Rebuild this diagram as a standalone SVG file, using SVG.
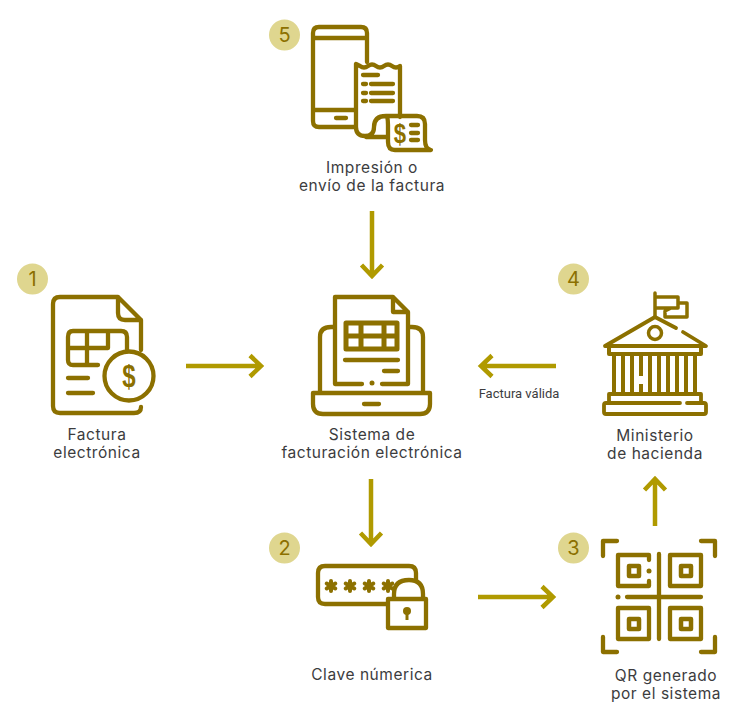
<svg xmlns="http://www.w3.org/2000/svg" width="750" height="714" viewBox="0 0 750 714">
<defs>
<style>
.i{fill:none;stroke:#8c7000;stroke-width:4.300;stroke-linecap:round;stroke-linejoin:round}
.f{fill:#8c7000;stroke:none}
.a{fill:none;stroke:#b09a00;stroke-width:4.500;stroke-linejoin:miter}
.b{fill:#dfd68f}
.n{font:400 20px Inter,"Liberation Sans",sans-serif;fill:#8c7000;text-anchor:middle}
.t{font:400 15.500px Inter,"Liberation Sans",sans-serif;fill:#3c3c3e;text-anchor:middle;letter-spacing:.55px}
.s{font:400 13px Roboto,"Liberation Sans",sans-serif;fill:#3c3c3e;text-anchor:middle}
.d{font:700 30px "Liberation Sans",sans-serif;fill:#8c7000;text-anchor:middle}
</style>
</defs>
<rect width="750" height="714" fill="#fff"/>
<g id="connectors">
<path class="a" d="M186 366H261M250 355.500L261 366L250 376.500"/>
<path class="a" d="M556 366H481M492 355.500L481 366L492 376.500"/>
<path class="a" d="M372 211V276M361.500 265L372 276L382.500 265"/>
<path class="a" d="M371 479V544M360.500 533L371 544L381.500 533"/>
<path class="a" d="M478 597H553M542 586.500L553 597L542 607.500"/>
<path class="a" d="M655 526V479M644.500 490L655 479L665.500 490"/>
<text class="s" x="519" y="398">Factura válida</text>
</g>
<g id="node-5">
<circle class="b" cx="284.500" cy="35" r="15.500"/><text class="n" x="284.500" y="42">5</text>
<path class="i" d="M367 62V33Q367 27 361 27H319Q313 27 313 33V121Q313 127 319 127H355M313 38H367M313 110H355M336 118H346"/>
<path class="i" d="M400 117V66Q396 69 392 66T384 66T376 66T368 66T360 66L356 64V127Q356 136 365 136Q374 136 374 127Q374 116 386 116H417Q425 116 425 124V140Q425 149 431 150H395Q388 150 388 142V125Q388 116 386 116M366 137H387"/>
<path class="i" d="M363 75H378M363 84H366M371 84H393M363 93H366M371 93H393M363 101H366M371 101H393M411 125H418M411 133H418M411 140H418"/>
<text class="d" transform="translate(400 143) scale(.85 1.05)" style="font-size:26px">$</text>
<text class="t" x="372" y="173">Impresión o</text>
<text class="t" x="372" y="191">envío de la factura</text>
</g>
<g id="node-1">
<circle class="b" cx="32.500" cy="279" r="15.500"/><text class="n" x="32.500" y="286">1</text>
<path class="i" d="M141 350V320L118 297H60Q53 297 53 304V406Q53 413 60 413H134Q141 413 141 407M118 297V313Q118 320 125 320H141"/>
<path class="i" d="M127 351V337Q127 331 121 331H73Q68 331 68 337V360Q68 365 73 365H98M68 348H108V331M87 331V365M68 378H88M68 393H93"/>
<circle class="i" cx="129" cy="376" r="24.500"/>
<text class="d" transform="translate(129 387) scale(.8 1.05)">$</text>
<text class="t" x="97" y="440">Factura</text>
<text class="t" x="97" y="458">electrónica</text>
</g>
<g id="node-center">
<path class="i" d="M335 384V297H393L408 312V384H382M362 384H335M393 297V312H408"/>
<path class="i" d="M346 323H397V349H346ZM346 336H397M361 323V349M384 323V349" style="stroke-width:5"/>
<path class="i" d="M345 360H398M384 371H398"/>
<circle class="f" cx="372" cy="383" r="2.500"/>
<path class="i" d="M320 393V337Q320 327 331 327H334M423 393V337Q423 327 412 327H409M313 393H430V404Q430 414 420 414H323Q313 414 313 404ZM364 404H379"/>
<text class="t" x="372" y="440">Sistema de</text>
<text class="t" x="372" y="458">facturación electrónica</text>
</g>
<g id="node-4">
<circle class="b" cx="573.500" cy="279" r="15.500"/><text class="n" x="573.500" y="286">4</text>
<path class="i" d="M655 293V317M655 297H678V308H655M678 303H687V317H665V311L671 308" style="stroke-width:3.500"/>
<path class="i" d="M605 346L655 317L676 328M683 332L706 346H605" style="stroke-width:3.800"/>
<circle class="i" cx="655" cy="333" r="6.500" style="stroke-width:3.500"/>
<path class="i" d="M609 347V354H701V347M614 354V394M623 354V394M632 354V394M641 354V376M641 384V394M650 354V394M659 354V394M668 354V394M677 354V394M686 354V394M695 354V394" style="stroke-width:4;stroke-linecap:butt"/>
<path class="i" d="M609 403V394H701V403M680 403H606Q604 403 604 405V412Q604 414 606 414H704Q706 414 706 412V405Q706 403 704 403H687" style="stroke-width:3.800"/>
<text class="t" x="655" y="441">Ministerio</text>
<text class="t" x="655" y="459">de hacienda</text>
</g>
<g id="node-2">
<circle class="b" cx="284.500" cy="548" r="15.500"/><text class="n" x="284.500" y="555">2</text>
<path class="i" d="M416 580V573Q416 566 409 566H325Q318 566 318 573V597Q318 604 325 604H386"/>
<g stroke="#8c7000" stroke-width="4" stroke-linecap="round">
<path d="M331 581V591M326.700 583.500L335.300 588.500M326.700 588.500L335.300 583.500M350 581V591M345.700 583.500L354.300 588.500M345.700 588.500L354.300 583.500M369 581V591M364.700 583.500L373.300 588.500M364.700 588.500L373.300 583.500M388 581V591M383.700 583.500L392.300 588.500M383.700 588.500L392.300 583.500"/>
</g>
<path class="i" d="M388 599H426V628H388ZM394 599V594Q394 580 409 580Q423 580 423 594V599" style="fill:#fff"/>
<circle class="f" cx="407" cy="611" r="4"/><path class="f" d="M405.500 612H408.500V620H405.500Z"/>
<text class="t" x="372" y="680">Clave númerica</text>
</g>
<g id="node-3">
<circle class="b" cx="573.500" cy="548" r="15.500"/><text class="n" x="573.500" y="555">3</text>
<path class="i" d="M603 556V541H617M701 541H715V556M603 637V652H617M715 637V652H701"/>
<path class="i" d="M649 560V555H618V586H649V581M670 555H701V586H670ZM618 608H649V639H618ZM670 608H701V639H670ZM659 554V639M627 597H701"/>
<path class="i" d="M629 566H639V576H629ZM681 566H691V576H681ZM629 619H639V629H629ZM681 619H691V629H681Z" style="stroke-width:4.500"/>
<circle class="f" cx="649" cy="571" r="2.500"/><circle class="f" cx="618" cy="597" r="2.500"/>
<text class="t" x="666" y="681">QR generado</text>
<text class="t" x="666" y="699">por el sistema</text>
</g>
</svg>
